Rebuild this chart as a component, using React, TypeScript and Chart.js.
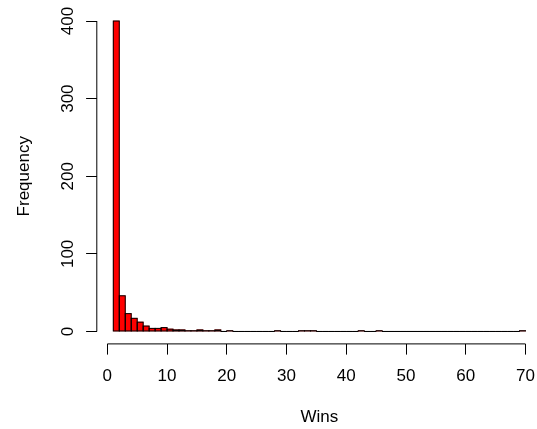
import React, { useEffect, useRef } from 'react';
import { Chart, registerables } from 'chart.js';

Chart.register(...registerables);

// Histogram breaks (bin edges) of "Wins"
const breaks = [
  1, 2, 3, 4, 5, 6, 7, 8, 9, 10, 11, 12, 13, 14, 15, 16, 17, 18, 19, 20,
  21, 22, 23, 24, 25, 26, 27, 28, 29, 30, 31, 32, 33, 34, 35, 36, 37, 38, 39, 40,
  41, 42, 43, 44, 45, 46, 47, 48, 49, 50, 51, 52, 53, 54, 55, 56, 57, 58, 59, 60,
  61, 62, 63, 64, 65, 66, 67, 68, 69, 70,
];

// Counts per bin (bin i spans breaks[i]..breaks[i+1])
const frequencies = [
  400, 46, 23, 17, 12, 7, 4, 4, 5, 3, 2, 2, 1, 1, 2, 1, 1, 2, 0, 1,
  0, 0, 0, 0, 0, 0, 0, 1, 0, 0, 0, 1, 1, 1, 0, 0, 0, 0, 0, 0,
  0, 1, 0, 0, 1, 0, 0, 0, 0, 0, 0, 0, 0, 0, 0, 0, 0, 0, 0, 0,
  0, 0, 0, 0, 0, 0, 0, 0, 1,
];

const xTicks = [0, 10, 20, 30, 40, 50, 60, 70];
const xTickLabels = ['0', '10', '20', '30', '40', '50', '60', '70'];
const yTicks = [0, 100, 200, 300, 400];
const yTickLabels = ['0', '100', '200', '300', '400'];

const xTitle = 'Wins';
const yTitle = 'Frequency';

const FONT = { family: '"Liberation Sans", Arial, Helvetica, sans-serif', size: 17 };

const rStylePlugin = {
  id: 'rStyle',
  afterDatasetsDraw(chart: any) {
    const ctx = chart.ctx;
    const meta = chart.getDatasetMeta(0);
    ctx.save();
    ctx.strokeStyle = '#000';
    ctx.lineWidth = 1;
    meta.data.forEach((el: any) => {
      const { x, y, base, width } = el.getProps(['x', 'y', 'base', 'width'], true);
      ctx.strokeRect(x - width / 2, Math.min(y, base), width, Math.abs(base - y));
    });
    ctx.restore();
  },
  afterDraw(chart: any) {
    const { ctx, chartArea } = chart;
    const xs = chart.scales.x;
    const ys = chart.scales.y;
    ctx.save();
    ctx.strokeStyle = '#000';
    ctx.lineWidth = 1;
    ctx.beginPath();
    ctx.moveTo(xs.getPixelForValue(xTicks[0]), chartArea.bottom);
    ctx.lineTo(xs.getPixelForValue(xTicks[xTicks.length - 1]), chartArea.bottom);
    ctx.moveTo(chartArea.left, ys.getPixelForValue(yTicks[0]));
    ctx.lineTo(chartArea.left, ys.getPixelForValue(yTicks[yTicks.length - 1]));
    ctx.stroke();
    ctx.restore();
  },
};

export default function App() {
  const canvasRef = useRef<HTMLCanvasElement | null>(null);

  useEffect(() => {
    if (!canvasRef.current) return;
    const data = frequencies.map((f, i) => ({ x: (breaks[i] + breaks[i + 1]) / 2, y: f }));
    const chart = new Chart(canvasRef.current, {
      type: 'bar',
      data: {
        datasets: [
          {
            data,
            backgroundColor: '#ff0000',
            borderWidth: 0,
            barPercentage: 1,
            categoryPercentage: 1,
          },
        ],
      },
      options: {
        responsive: false,
        animation: false,
        events: [],
        layout: { padding: { top: 8.6, right: 0, bottom: 0, left: 0 } },
        plugins: { legend: { display: false }, tooltip: { enabled: false } },
        scales: {
          x: {
            type: 'linear',
            min: -1.76,
            max: 72.76,
            offset: false,
            border: { display: false },
            grid: {
              display: true,
              drawOnChartArea: false,
              drawTicks: true,
              tickLength: 10.7,
              color: '#000',
              lineWidth: 1,
              offset: false,
            },
            ticks: {
              color: '#000',
              font: FONT,
              padding: 11.9,
              maxRotation: 0,
              autoSkip: false,
              callback: (v: any) => xTickLabels[xTicks.indexOf(Number(v))] ?? '',
            },
            afterBuildTicks: (s: any) => {
              s.ticks = xTicks.map((v) => ({ value: v }));
            },
            afterFit: (s: any) => {
              s.height = 85.1;
              s.paddingLeft = 0;
              s.paddingRight = 0;
              s.paddingTop = 0;
              s.paddingBottom = 0;
            },
            title: {
              display: true,
              text: xTitle,
              color: '#000',
              font: FONT,
              padding: { top: 0, bottom: 1.6 },
            },
          },
          y: {
            type: 'linear',
            min: -16,
            max: 416,
            border: { display: false },
            grid: {
              display: true,
              drawOnChartArea: false,
              drawTicks: true,
              tickLength: 10.7,
              color: '#000',
              lineWidth: 1,
            },
            ticks: {
              color: '#000',
              font: FONT,
              padding: 3.9,
              minRotation: 90,
              maxRotation: 90,
              crossAlign: 'center',
              autoSkip: false,
              callback: (v: any) => yTickLabels[yTicks.indexOf(Number(v))] ?? '',
            },
            afterBuildTicks: (s: any) => {
              s.ticks = yTicks.map((v) => ({ value: v }));
            },
            afterFit: (s: any) => {
              s.width = 96.8;
              s.paddingLeft = 0;
              s.paddingRight = 0;
              s.paddingTop = 0;
              s.paddingBottom = 0;
            },
            title: {
              display: true,
              text: yTitle,
              color: '#000',
              font: FONT,
              padding: { top: 14.5, bottom: 0 },
            },
          },
        },
      },
      plugins: [rStylePlugin],
    } as any);
    return () => chart.destroy();
  }, []);

  return (
    <div
      style={{
        position: 'fixed',
        left: 0,
        top: 0,
        width: 537,
        height: 429,
        overflow: 'hidden',
        background: '#fff',
      }}
    >
      <canvas ref={canvasRef} width={542} height={429} style={{ display: 'block' }} />
    </div>
  );
}
